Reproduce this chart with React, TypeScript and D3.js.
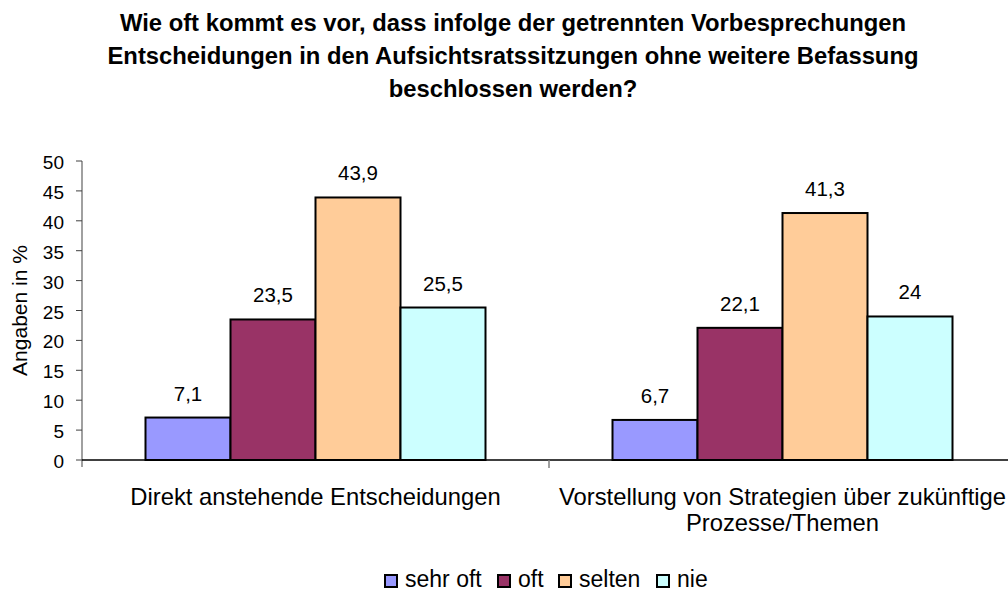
import React from "react";
import * as d3 from "d3";

const titleLines = [
  "Wie oft kommt es vor, dass infolge der getrennten Vorbesprechungen",
  "Entscheidungen in den Aufsichtsratssitzungen ohne weitere Befassung",
  "beschlossen werden?",
];
const categories = [
  ["Direkt anstehende Entscheidungen"],
  ["Vorstellung von Strategien über zukünftige", "Prozesse/Themen"],
];
const seriesNames = ["sehr oft", "oft", "selten", "nie"];
const seriesColors = ["#9999FF", "#993366", "#FFCC99", "#CCFFFF"];
const sehrOft = [7.1, 6.7];
const oft = [23.5, 22.1];
const selten = [43.9, 41.3];
const nie = [25.5, 24];
const yTicks = [0, 5, 10, 15, 20, 25, 30, 35, 40, 45, 50];
const yLabel = "Angaben in %";

const W = 1008;
const H = 593;
const FONT = "'Liberation Sans', Arial, sans-serif";

export default function App() {
  const series = [sehrOft, oft, selten, nie];
  const left = 82;
  const band = 467;
  const x0 = d3
    .scaleBand<number>()
    .domain(categories.map((_, i) => i))
    .range([left, left + band * categories.length])
    .paddingInner(0)
    .paddingOuter(0);
  const barW = 85;
  const y = d3.scaleLinear().domain([0, 50]).range([460, 161]);
  const fmt = (v: number) => String(v).replace(".", ",");
  const legendOffsets = [0, 113, 174, 272];

  return (
    <svg
      width={W}
      height={H}
      style={{ position: "absolute", left: 0, top: 0, background: "#fff" }}
      fontFamily={FONT}
    >
      {titleLines.map((t, i) => (
        <text
          key={i}
          x={513}
          y={31 + i * 33}
          textAnchor="middle"
          fontWeight="bold"
          fontSize={23.8}
          fill="#000"
        >
          {t}
        </text>
      ))}

      {/* y axis */}
      <line x1={left} x2={left} y1={y(50)} y2={467} stroke="#808080" strokeWidth={1.5} />
      {yTicks.map((t) => (
        <g key={t}>
          <line x1={76} x2={left} y1={y(t)} y2={y(t)} stroke="#404040" strokeWidth={1} />
          <text x={64} y={y(t) + 8} textAnchor="end" fontSize={19} fill="#000">
            {t}
          </text>
        </g>
      ))}
      <text
        transform={`translate(27,${(y(0) + y(50)) / 2}) rotate(-90)`}
        textAnchor="middle"
        fontSize={21}
        fill="#000"
      >
        {yLabel}
      </text>

      {/* bars */}
      {categories.map((_, ci) => {
        const bx = x0(ci)! + (band - barW * series.length) / 2;
        return (
          <g key={ci}>
            {series.map((s, si) => (
              <g key={si}>
                <rect
                  x={bx + si * barW}
                  y={y(s[ci])}
                  width={barW}
                  height={y(0) - y(s[ci])}
                  fill={seriesColors[si]}
                  stroke="#000"
                  strokeWidth={2}
                />
                <text
                  x={bx + si * barW + barW / 2}
                  y={y(s[ci]) - 17}
                  textAnchor="middle"
                  fontSize={20.5}
                  fill="#000"
                >
                  {fmt(s[ci])}
                </text>
              </g>
            ))}
          </g>
        );
      })}

      {/* x axis */}
      <line x1={left} x2={W} y1={y(0)} y2={y(0)} stroke="#000" strokeWidth={1.5} />
      {[1].map((i) => (
        <line
          key={i}
          x1={x0(i)!}
          x2={x0(i)!}
          y1={y(0)}
          y2={468}
          stroke="#808080"
          strokeWidth={1.5}
        />
      ))}
      {categories.map((lines, ci) => (
        <g key={ci}>
          {lines.map((l, li) => (
            <text
              key={li}
              x={x0(ci)! + band / 2}
              y={505 + li * 26}
              textAnchor="middle"
              fontSize={23.8}
              fill="#000"
            >
              {l}
            </text>
          ))}
        </g>
      ))}

      {/* legend */}
      {seriesNames.map((n, i) => {
        const gx = 385 + legendOffsets[i];
        return (
          <g key={n}>
            <rect x={gx} y={575} width={12} height={12} fill={seriesColors[i]} stroke="#000" strokeWidth={2} />
            <text x={gx + 20} y={587} fontSize={23} fill="#000">
              {n}
            </text>
          </g>
        );
      })}
    </svg>
  );
}
